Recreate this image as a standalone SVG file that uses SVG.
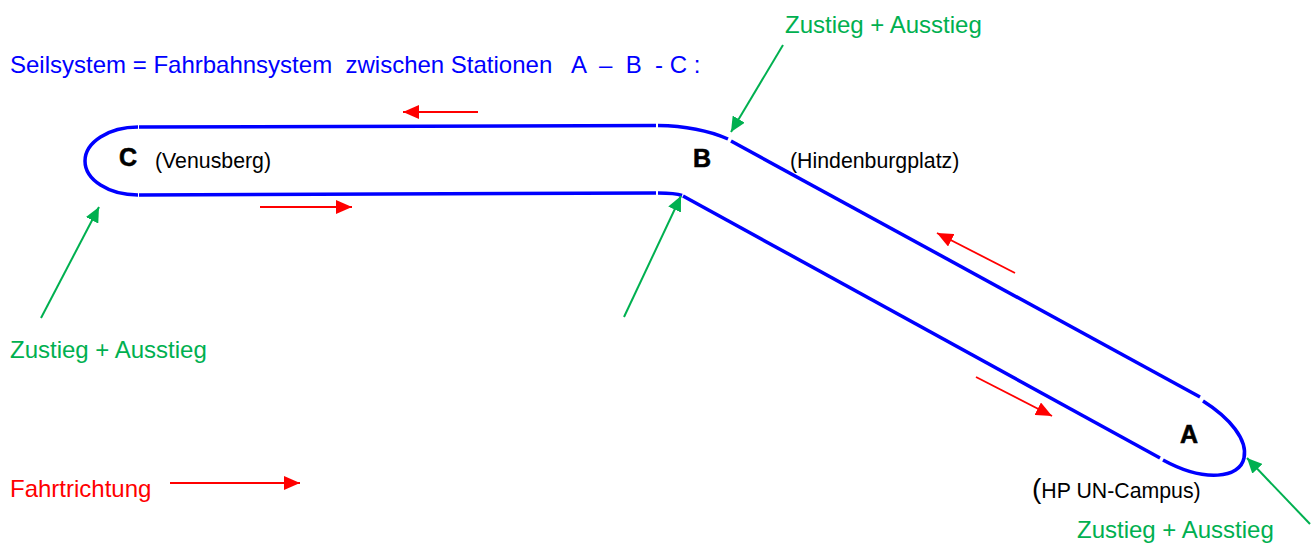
<svg xmlns="http://www.w3.org/2000/svg" width="1316" height="544" viewBox="0 0 1316 544">
<style>
.rail{fill:none;stroke:#0000ff;stroke-width:3.5}
.g{stroke:#00b050;stroke-width:2;fill:none}
.r{stroke:#ff0000;stroke-width:1.8;fill:none}
.t{font-family:"Liberation Sans",Arial,sans-serif}
.st{font-family:"Liberation Sans",Arial,sans-serif;font-weight:bold;font-size:25px;fill:#000;stroke:#000;stroke-width:0.6}
.lbl{font-family:"Liberation Sans",Arial,sans-serif;font-size:21.3px;fill:#000}
.gt{font-family:"Liberation Sans",Arial,sans-serif;font-size:24px;fill:#00b050}
</style>
<defs>
<marker id="ga" markerUnits="userSpaceOnUse" markerWidth="16" markerHeight="14" refX="15" refY="7" orient="auto">
<path d="M0,0 L15,7 L0,14 z" fill="#00b050"/>
</marker>
<marker id="ra" markerUnits="userSpaceOnUse" markerWidth="17" markerHeight="14" refX="16" refY="7" orient="auto">
<path d="M0,0 L16,7 L0,14 z" fill="#ff0000"/>
</marker>
</defs>
<rect width="1316" height="544" fill="#fff"/>
<text class="t" x="10" y="73" font-size="24" fill="#0000ff" xml:space="preserve">Seilsystem = Fahrbahnsystem  zwischen Stationen   A  –  B  - C :</text>
<g id="track">
<path class="rail" d="M138,127 A53,34 0 0 0 138,195"/>
<path class="rail" d="M139,127 L656,125.5"/>
<path class="rail" d="M658,125.5 C690,126 712,132 728,139"/>
<path class="rail" d="M731,141 L1200,397"/>
<path class="rail" d="M1203,401 C1230,418 1248,440 1244,458 C1240,478 1205,483 1163,460"/>
<path class="rail" d="M1160,458 L683,196"/>
<path class="rail" d="M682,195.5 C678,194 672,193 658,193"/>
<path class="rail" d="M656,193 L139,195"/>
</g>
<g id="station-C">
<text class="st" x="119" y="166">C</text>
<text class="lbl" x="155" y="168">(Venusberg)</text>
</g>
<g id="station-B">
<text class="st" x="693" y="167">B</text>
<text class="lbl" x="790" y="168">(Hindenburgplatz)</text>
</g>
<g id="station-A">
<text class="st" x="1180" y="443">A</text>
<text class="lbl" x="1032" y="498"><tspan font-size="28">(</tspan>HP UN-Campus)</text>
</g>
<g id="labels">
<text class="gt" x="785" y="33">Zustieg + Ausstieg</text>
<text class="gt" x="10" y="358">Zustieg + Ausstieg</text>
<text class="gt" x="1077" y="538">Zustieg + Ausstieg</text>
<text class="t" x="10" y="497" font-size="24" fill="#ff0000">Fahrtrichtung</text>
</g>
<g id="connectors">
<line class="g" x1="783" y1="45" x2="731" y2="132" marker-end="url(#ga)"/>
<line class="g" x1="41" y1="318" x2="99" y2="207" marker-end="url(#ga)"/>
<line class="g" x1="624" y1="317" x2="681" y2="196" marker-end="url(#ga)"/>
<line class="g" x1="1310" y1="524" x2="1247" y2="458" marker-end="url(#ga)"/>
<line class="r" x1="478" y1="112" x2="403" y2="112" marker-end="url(#ra)"/>
<line class="r" x1="260" y1="207" x2="352" y2="207" marker-end="url(#ra)"/>
<line class="r" x1="1015" y1="273" x2="937" y2="233" marker-end="url(#ra)"/>
<line class="r" x1="976" y1="377" x2="1052" y2="416" marker-end="url(#ra)"/>
<line class="r" x1="170" y1="483" x2="300" y2="483" marker-end="url(#ra)"/>
</g>
</svg>
